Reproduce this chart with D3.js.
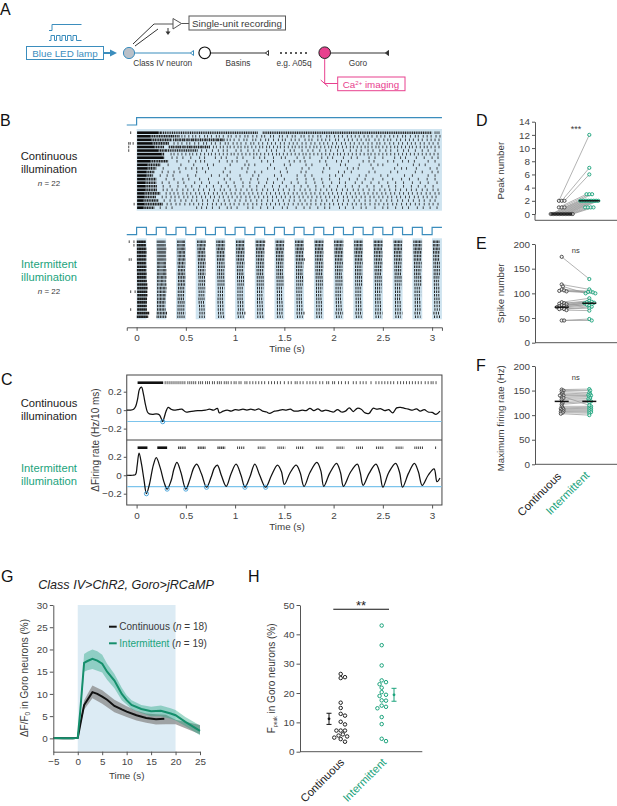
<!DOCTYPE html>
<html lang="en">
<head>
<meta charset="utf-8">
<title>Continuous vs intermittent illumination</title>
<script src="https://d3js.org/d3.v7.min.js"></script>
<style>
  body { margin: 0; background: #fff; }
  svg { display: block; }
  text { font-family: "Liberation Sans", Arial, sans-serif; fill: #3a3a3a; }
  .domain, .tick line { stroke: #555; stroke-width: 1; }
  .tick text { font-size: 9.9px; fill: #444; }
</style>
</head>
<body>
<svg id="fig" width="617" height="806"></svg>
<script>
const BLUE = '#3b8dbd', GREEN = '#1ba37c', PINK = '#e8408e', SHADE = '#cfe4f0', THRESH = '#7cc4ec';

// light pulses (s)
const pulseOn = [0, .2, .4, .6, .8, 1, 1.2, 1.4, 1.6, 1.8, 2, 2.2, 2.4, 2.6, 2.8, 3];
const pulseOff = [.1, .3, .5, .7, .9, 1.1, 1.3, 1.5, 1.7, 1.9, 2.1, 2.3, 2.5, 2.7, 2.9, 3.1];
const timeTicks = [0, .5, 1, 1.5, 2, 2.5, 3];

// B raster, continuous: times in 1/100 s
const contSolid = [22, 14, 15, 16, 18, 22, 25, 27, 14, 11, 11, 10, 10, 9, 9, 9, 9, 8, 8, 7, 8, 7];
const contDense = [25, 37, 36, 33, 28, 30, 28, 28, 32, 24, 20, 18, 17, 20, 20, 21, 21, 24, 20, 22, 27, 18];
const contBlocks = [[0, 25, 123], [0, 128, 300], [2, 37, 90], [4, 33, 75], [5, 30, 62], [1, 37, 44]];
const contPre = [[0, -6], [3, -8], [3, -6.5], [3, -3.5], [4, -8], [5, -8], [20, -2.5]];
const contSpikes = [
  [303, 305, 307],
  [46, 49, 53, 57, 60, 64, 69, 72, 76, 81, 84, 88, 93, 96, 101, 105, 110, 113, 118, 122, 127, 130, 136, 139, 145, 148, 153, 158, 161, 167, 170, 175, 179, 184, 187, 193, 196, 201, 205, 209, 214, 218, 222, 226, 231, 235, 239, 244, 248, 252, 257, 261, 265, 270, 273, 278, 283, 286, 291, 295, 299, 304, 308],
  [40, 44, 48, 52, 57, 60, 65, 70, 74, 78, 82, 86, 92, 95, 99, 104, 109, 112, 118, 121, 126, 131, 134, 139, 144, 148, 151, 157, 161, 165, 171, 175, 178, 184, 188, 192, 196, 202, 205, 211, 215, 219, 224, 228, 233, 236, 242, 246, 251, 255, 258, 264, 268, 273, 277, 281, 286, 290, 295, 299, 303, 307],
  [38, 42, 46, 51, 54, 59, 63, 68, 71, 76, 80, 85, 90, 93, 98, 102, 106, 111, 116, 119, 124, 128, 133, 137, 141, 146, 150, 155, 159, 163, 168, 172, 177, 181, 186, 190, 194, 199, 203, 208, 212, 217, 221, 226, 230, 235, 239, 244, 247, 252, 257, 261, 266, 270, 275, 279, 283, 288, 292, 297, 301, 306],
  [33, 37, 41, 44, 48, 52, 55, 59, 63, 66, 70, 74, 78, 81, 85, 88, 92, 95, 99, 103, 106, 110, 113, 117, 121, 125, 128, 132, 135, 139, 143, 146, 150, 154, 158, 161, 165, 168, 172, 176, 180, 183, 187, 191, 195, 198, 202, 205, 209, 213, 217, 220, 224, 228, 232, 235, 239, 243, 246, 250, 254, 258, 262, 265, 269, 273, 277, 280, 284, 288, 292, 295, 299, 303, 307],
  [66, 71, 77, 83, 88, 92, 101, 106, 113, 119, 124, 132, 137, 142, 150, 156, 160, 168, 174, 179, 186, 192, 197, 204, 210, 217, 223, 228, 235, 240, 247, 253, 258, 265, 271, 276, 283, 290, 296, 303],
  [35, 38, 42, 46, 50, 54, 57, 61, 65, 69, 73, 76, 80, 84, 88, 92, 96, 99, 103, 107, 111, 115, 119, 122, 126, 130, 134, 138, 142, 145, 149, 153, 157, 161, 165, 169, 172, 176, 180, 184, 188, 192, 196, 200, 204, 207, 211, 215, 219, 223, 227, 231, 235, 238, 242, 246, 250, 254, 258, 262, 266, 270, 274, 278, 282, 286, 290, 294, 298, 302, 306],
  [36, 41, 47, 55, 64, 69, 80, 86, 91, 102, 108, 119, 125, 130, 139, 147, 151, 163, 170, 176, 188, 194, 199, 210, 218, 224, 236, 242, 250, 262, 268, 273, 284, 292, 300, 306],
  [41, 53, 60, 65, 69, 84, 92, 97, 102, 112, 127, 133, 139, 155, 160, 166, 171, 186, 192, 203, 208, 215, 230, 236, 241, 255, 261, 270, 276, 282, 296, 303],
  [32, 45, 58, 72, 78, 95, 110, 114, 120, 136, 150, 156, 172, 178, 193, 207, 212, 226, 238, 245, 250, 265, 281, 287, 293, 307],
  [27, 43, 50, 56, 61, 67, 73, 90, 107, 113, 133, 140, 152, 168, 175, 190, 196, 214, 220, 225, 240, 262, 269, 274, 284, 298, 305],
  [26, 32, 38, 44, 61, 70, 88, 95, 112, 120, 127, 146, 153, 167, 172, 189, 205, 211, 218, 236, 242, 258, 265, 283, 290, 300, 306],
  [24, 31, 37, 52, 60, 76, 84, 92, 105, 118, 124, 140, 147, 163, 171, 178, 196, 202, 209, 226, 233, 248, 255, 272, 280, 296, 303],
  [30, 38, 47, 53, 64, 73, 89, 95, 106, 116, 123, 133, 143, 150, 163, 172, 180, 188, 196, 206, 216, 224, 232, 240, 250, 260, 269, 277, 286, 295, 303],
  [26, 33, 42, 48, 59, 66, 74, 83, 91, 99, 108, 115, 124, 132, 139, 148, 157, 164, 172, 181, 189, 198, 206, 212, 222, 229, 238, 246, 255, 263, 271, 280, 288, 296, 305],
  [27, 34, 42, 50, 56, 64, 71, 78, 86, 93, 100, 108, 115, 122, 130, 138, 145, 152, 160, 167, 174, 182, 190, 196, 204, 212, 219, 226, 234, 241, 249, 256, 263, 271, 279, 286, 293, 301],
  [27, 31, 36, 41, 47, 52, 58, 63, 68, 74, 79, 85, 89, 95, 101, 106, 112, 117, 122, 128, 133, 139, 144, 149, 155, 160, 166, 171, 176, 182, 187, 193, 198, 203, 209, 214, 220, 225, 230, 236, 241, 247, 252, 257, 263, 268, 274, 279, 284, 290, 295, 301, 306],
  [30, 34, 38, 42, 47, 51, 55, 60, 64, 69, 73, 78, 82, 87, 91, 96, 100, 105, 109, 114, 118, 123, 127, 132, 136, 141, 145, 150, 154, 159, 163, 168, 172, 177, 181, 186, 190, 195, 199, 204, 208, 213, 217, 222, 226, 231, 235, 240, 244, 249, 253, 258, 262, 267, 271, 276, 280, 285, 289, 294, 298, 303, 307],
  [26, 30, 35, 39, 43, 48, 52, 57, 61, 66, 70, 75, 79, 84, 88, 93, 97, 102, 106, 111, 115, 120, 124, 129, 133, 138, 142, 147, 151, 156, 160, 165, 169, 174, 178, 183, 187, 192, 196, 201, 205, 210, 214, 219, 223, 228, 232, 237, 241, 246, 250, 255, 259, 264, 268, 273, 277, 282, 286, 291, 295, 300, 304],
  [28, 34, 39, 45, 50, 56, 61, 67, 72, 78, 83, 89, 94, 100, 105, 111, 116, 122, 127, 133, 138, 144, 149, 155, 160, 166, 171, 177, 182, 188, 193, 199, 204, 210, 215, 221, 226, 232, 237, 243, 248, 254, 259, 265, 270, 276, 281, 287, 292, 298, 303],
  [31, 35, 40, 44, 49, 54, 58, 63, 67, 72, 77, 81, 86, 90, 95, 99, 104, 109, 113, 118, 122, 127, 132, 136, 141, 145, 150, 154, 159, 164, 168, 173, 177, 182, 187, 191, 196, 200, 205, 209, 214, 219, 223, 228, 232, 237, 242, 246, 251, 255, 260, 264, 269, 274, 278, 283, 287, 292, 297, 301, 306],
  [24, 30, 36, 61, 66, 71, 77, 84, 92, 96, 102, 113, 118, 126, 133, 139, 148, 153, 162, 170, 176, 184, 191, 196, 206, 212, 220, 228, 233, 242, 250, 255, 263, 270, 276, 285, 291, 298, 305]
];

// B raster, intermittent: burst onset / length per pulse per row (ms after pulse onset)
const interOnset = [
  [2, 2, 3, 3, 3, 3, 4, 4, 3, 4, 4, 4, 5, 5, 5, 6, 6, 5, 6, 5, 4, 2],
  [5, 5, 6, 6, 6, 7, 7, 7, 8, 8, 8, 8, 9, 9, 9, 9, 9, 8, 8, 8, 5, 3],
  [12, 12, 14, 16, 16, 18, 16, 18, 20, 18, 20, 20, 18, 20, 18, 18, 16, 18, 16, 16, 14, 14],
  [14, 16, 18, 20, 20, 22, 24, 24, 26, 26, 28, 30, 28, 28, 30, 30, 28, 30, 34, 36, 38, 36],
  [10, 10, 12, 14, 14, 16, 18, 18, 20, 20, 20, 22, 22, 24, 24, 24, 22, 22, 24, 24, 26, 28],
  [10, 10, 12, 12, 14, 14, 16, 18, 18, 20, 20, 22, 24, 24, 24, 24, 24, 26, 26, 28, 24, 28],
  [10, 10, 12, 14, 14, 16, 16, 16, 18, 18, 20, 20, 20, 22, 22, 24, 22, 22, 24, 26, 24, 26],
  [12, 14, 12, 14, 16, 16, 18, 18, 20, 20, 20, 22, 22, 22, 24, 24, 24, 24, 26, 26, 24, 28],
  [10, 12, 14, 14, 16, 16, 18, 18, 20, 20, 20, 22, 22, 22, 22, 24, 24, 24, 26, 26, 24, 28],
  [8, 10, 12, 12, 14, 14, 16, 16, 16, 18, 18, 20, 20, 22, 22, 22, 24, 24, 24, 26, 24, 26],
  [6, 8, 10, 10, 12, 14, 14, 16, 16, 18, 18, 20, 20, 20, 20, 20, 22, 22, 24, 26, 20, 26],
  [10, 10, 12, 12, 14, 16, 16, 18, 18, 18, 20, 20, 20, 22, 22, 22, 24, 24, 24, 26, 22, 26],
  [8, 8, 10, 12, 12, 14, 14, 16, 16, 18, 18, 18, 20, 20, 20, 22, 22, 22, 24, 24, 22, 26],
  [10, 12, 12, 14, 14, 16, 16, 18, 18, 20, 20, 20, 22, 22, 24, 24, 22, 24, 24, 26, 24, 28],
  [10, 10, 12, 12, 14, 14, 16, 16, 18, 18, 20, 20, 20, 22, 22, 22, 24, 24, 24, 26, 22, 26],
  [8, 8, 10, 10, 12, 12, 14, 14, 16, 16, 16, 18, 18, 20, 20, 20, 22, 22, 22, 24, 14, 20]
];
const interLength = [
  [92, 94, 96, 98, 96, 96, 94, 96, 96, 98, 96, 100, 104, 108, 104, 104, 100, 100, 98, 100, 124, 116],
  [90, 92, 98, 96, 94, 96, 96, 94, 98, 98, 96, 94, 96, 94, 92, 90, 88, 84, 82, 86, 108, 104],
  [84, 84, 80, 78, 80, 76, 78, 76, 74, 76, 74, 72, 74, 72, 74, 70, 72, 70, 72, 68, 80, 74],
  [88, 86, 82, 78, 80, 78, 76, 74, 72, 72, 70, 68, 70, 68, 66, 64, 66, 66, 62, 60, 60, 56],
  [88, 88, 84, 82, 84, 80, 76, 78, 74, 74, 72, 70, 70, 68, 66, 66, 66, 68, 64, 62, 60, 60],
  [88, 86, 84, 84, 82, 80, 78, 74, 72, 70, 70, 68, 66, 64, 64, 64, 64, 62, 60, 58, 84, 58],
  [100, 92, 88, 84, 82, 80, 78, 78, 74, 74, 72, 70, 70, 68, 66, 64, 66, 66, 62, 60, 66, 62],
  [88, 86, 84, 80, 80, 78, 74, 74, 72, 70, 70, 68, 68, 66, 64, 64, 62, 62, 60, 58, 66, 56],
  [88, 86, 84, 82, 80, 96, 76, 74, 72, 70, 70, 68, 66, 66, 66, 64, 62, 62, 60, 58, 84, 58],
  [90, 88, 84, 84, 82, 80, 78, 78, 76, 74, 72, 70, 70, 68, 66, 66, 62, 62, 60, 58, 66, 56],
  [92, 90, 86, 86, 84, 80, 80, 76, 76, 72, 72, 70, 68, 68, 68, 66, 66, 64, 60, 58, 76, 56],
  [88, 88, 84, 84, 82, 78, 78, 74, 74, 74, 70, 70, 70, 66, 66, 66, 62, 62, 60, 58, 72, 58],
  [90, 90, 86, 84, 84, 80, 80, 76, 76, 72, 72, 72, 68, 68, 68, 64, 64, 64, 60, 60, 74, 56],
  [88, 84, 84, 80, 80, 78, 76, 74, 74, 70, 70, 70, 66, 66, 62, 62, 64, 62, 60, 58, 74, 56],
  [88, 88, 86, 84, 82, 80, 78, 76, 74, 72, 70, 70, 70, 66, 66, 66, 62, 62, 60, 58, 70, 56],
  [72, 70, 68, 68, 66, 66, 64, 64, 62, 62, 62, 60, 60, 58, 58, 58, 56, 56, 56, 54, 62, 60]
];
// spike spacing in a burst (ms): per pulse, then scaled per row
const pulseIsi = [9, 12, 15, 17, 18, 18, 18, 18, 18, 18, 18, 18, 18, 18, 18, 18];
const rowIsi = [.8, .8, .8, .9, .9, .9, 1, 1, 1, 1, 1.1, 1.1, 1.1, 1.2, 1.2, 1.2, 1.2, 1.3, 1.3, 1.3, 1.3, 1.4];
const interPre = [[0, -7.5], [0, -2.7], [1, -2.7], [5, -7.5], [5, -5.5], [14, -6], [14, -1.5], [19, -6]];

// C: population firing rate
const rateUpT = [-10, -6, -3, -1, 1, 3, 5, 7, 9, 11, 13, 16, 20, 23, 25, 26.5, 28, 30, 32, 35, 38, 42, 46, 50, 54, 58, 62, 66, 70, 74, 78, 82, 84, 88, 92, 96, 100, 104, 108, 112, 116, 120, 124, 128, 132, 135, 140, 144, 148, 152, 156, 160, 164, 168, 172, 176, 180, 184, 188, 192, 196, 200, 204, 208, 212, 216, 220, 224, 228, 232, 236, 240, 244, 248, 252, 256, 260, 264, 268, 272, 276, 280, 284, 288, 292, 296, 300, 304, 308];
const rateUpV = [0, 0, .01, .04, .12, .23, .25, .17, .06, -.02, -.04, -.045, -.04, -.05, -.09, -.125, -.08, -.01, .03, .01, 0, .005, .01, -.02, -.015, -.01, -.005, -.005, 0, .01, 0, .02, -.03, -.01, .0, -.01, .005, 0, .01, 0, .01, 0, .015, -.01, -.02, -.035, -.01, -.005, .005, 0, .01, -.01, -.01, 0, -.005, .02, -.005, .015, -.01, 0, -.01, -.02, .005, -.02, -.01, .025, -.015, .02, .01, -.03, -.035, .02, .01, .015, -.005, .005, -.03, .025, .03, .02, .01, 0, .015, -.01, .005, -.02, -.025, -.045, -.01];
const rateLoT = [-10, -4, -1, 0.5, 2.5, 5, 7.5, 10, 13, 17, 20, 24, 28, 31, 35, 38, 41, 45, 50, 54, 58, 61, 66, 71, 76, 79, 82, 86, 91, 96, 101, 106, 110, 115, 120, 125, 131, 137, 143, 147, 150, 156, 162, 166, 170, 176, 183, 187, 190, 196, 203, 207, 210, 217, 224, 227, 230, 236, 243, 247, 250, 256, 263, 267, 270, 276, 282, 286, 290, 296, 302, 305, 308];
const rateLoV = [0, 0, .01, .1, .24, .12, -.05, -.2, -.1, .11, .19, .08, -.08, -.15, -.06, .07, .14, .03, -.15, -.05, .08, .12, .01, -.13, -.01, .08, .11, .0, -.12, .02, .12, 0, -.13, -.02, .12, 0, -.13, .0, .11, .04, -.1, .03, .11, .03, -.12, .03, .14, .05, -.12, .02, .13, .03, -.12, .03, .12, .03, -.11, .02, .12, .02, -.13, .03, .13, .03, -.13, .02, .13, .04, -.11, .0, .07, -.07, -.03];
const troughsUp = [26.5];
const troughsLo = [10, 31, 50, 71, 110, 131];
const stripUp = [29, 31, 33, 35, 37, 39, 41, 43, 45, 47, 49, 52, 54, 56, 58, 60, 63, 65, 67, 70, 72, 74, 77, 79, 82, 84, 86, 89, 91, 93, 96, 99, 101, 104, 106, 110, 112, 115, 118, 121, 124, 127, 130, 134, 137, 140, 143, 146, 150, 154, 157, 161, 163, 166, 169, 173, 176, 179, 182, 186, 189, 193, 195, 199, 201, 205, 208, 212, 215, 220, 223, 227, 230, 233, 238, 243, 246, 249, 252, 255, 258, 261, 265, 268, 271, 274, 277, 280, 283, 286, 289, 293, 296, 299, 301, 304];
const stripLoOn = [1, 21, 42, 62, 82, 102, 123, 143, 162, 182, 203, 223, 243, 263, 282, 303];
const stripLoOff = [11, 31, 50, 70, 90, 110, 131, 151, 170, 190, 211, 230, 251, 271, 291, 305];

// D, E, F: paired values
const peakCont = [2, 2, 2, 1, 1, 1, 0, 0, 0, 0, 0, 0, 0, 0, 0, 0, 0, 0, 0, 0, 0, 0];
const peakInter = [12, 7, 6, 3, 3, 3, 2, 2, 2, 2, 2, 2, 2, 2, 2, 2, 2, 2, 1, 1, 1, 1];
const spikeCont = [174, 118, 114, 108, 106, 105, 104, 82, 80, 79, 78, 76, 75, 74, 73, 72, 70, 68, 68, 66, 45, 45];
const spikeInter = [129, 108, 100, 104, 102, 103, 100, 90, 85, 83, 82, 81, 80, 80, 78, 77, 75, 73, 70, 65, 48, 45];
const maxCont = [152, 150, 148, 145, 142, 140, 137, 135, 132, 128, 125, 122, 118, 115, 113, 112, 110, 108, 107, 105, 103, 140];
const maxInter = [153, 150, 146, 143, 141, 140, 138, 135, 133, 130, 128, 126, 118, 116, 114, 112, 110, 108, 106, 104, 100, 120];
const peakMeans = [0, 2], spikeMeans = [72, 80], maxMeans = [128, 128];

// G: mean and band
const gBlackT = [-5, -3, -1, 0, .5, 1.3, 2, 3, 4, 5, 6, 7.5, 9, 10, 12, 14, 16, 17.7];
const gBlackV = [.1, 0, 0, .1, 3, 7.5, 8.7, 10.4, 10, 9.4, 8.7, 7.3, 6.5, 6, 5.2, 4.6, 4.3, 4.4];
const gGrayT = [-5, -1, 0, .5, 1.3, 2, 3, 5, 7.5, 10, 12, 14, 16, 18, 20, 25];
const gGrayLo = [-.2, -.1, 0, 2.5, 6.5, 7.5, 9, 7.8, 5.9, 4.8, 4, 3.5, 3.1, 3.2, 3.2, .9];
const gGrayHi = [.2, .1, .2, 3.5, 8.5, 10, 11.9, 10.8, 8.7, 7.2, 6.2, 5.6, 5.4, 5.3, 4.2, 3];
const gGreenT = [-5, -3, -1, 0, .5, 1.3, 2, 3, 4, 5, 6, 7.5, 9, 10, 11, 13, 15, 17, 19, 20, 22, 25];
const gGreenV = [.1, 0, 0, .1, 6, 17, 17.4, 17.9, 17.5, 16.8, 15, 13, 10, 8.6, 7.5, 6.6, 6.1, 6.2, 5.6, 5.2, 3.7, 1.7];
const gGreenLo = [-.2, -.1, -.1, 0, 5, 15, 15.3, 15.6, 15.2, 14.8, 13.2, 11.3, 8.6, 7.6, 6.6, 5.7, 5, 5, 4.4, 4, 2.8, .7];
const gGreenHi = [.2, .1, .1, .2, 7, 19, 19.5, 20, 19.6, 18.8, 16.8, 14.5, 11.4, 9.7, 8.6, 7.5, 7.1, 7.4, 6.8, 6.4, 4.8, 2.9];

// H: peak values and mean +- sem
const fpeakCont = [26.5, 25.4, 25.1, 16.7, 14.9, 12.9, 12.3, 10.2, 9.3, 7.2, 7.2, 7.2, 5.9, 5.5, 5.2, 4.8, 4.3, 3.4];
const fpeakInter = [43, 36.3, 29.4, 24.3, 23.7, 23, 21.8, 20.3, 19.4, 19, 17.5, 17.4, 15.7, 15.3, 14.8, 11.8, 9.4, 4.4, 3.6];
const fpeakCI = [[11.2, 9.3, 13.1], [19.4, 17.2, 21.6]];

const svg = d3.select('#fig');

function txt(x, y, s, o = {}) {
  const t = svg.append('text').attr('x', x).attr('y', y)
    .attr('font-size', o.size || 10).attr('text-anchor', o.anchor || 'start').text(s);
  if (o.fill) t.style('fill', o.fill);
  if (o.italic) t.attr('font-style', 'italic');
  if (o.rotate !== undefined) t.attr('transform', `rotate(${o.rotate},${x},${y})`);
  return t;
}
function path(d, stroke, w, fill) {
  return svg.append('path').attr('d', d).attr('stroke', stroke).attr('stroke-width', w).attr('fill', fill || 'none');
}

// panel letters
[['A', 0, 15], ['B', 0, 126], ['C', 1, 385], ['D', 476, 126], ['E', 476, 249], ['F', 476, 371], ['G', 1, 582], ['H', 248, 582]]
  .forEach(l => txt(l[1], l[2], l[0], { size: 16, fill: '#111' }));

// ---------- A: schematic
path('M49,30.5H52V24.5H81.5', BLUE, 1);
path('M49,40.5H51V35.5H54.5V40.5H56.5V35.5H60V40.5H62V35.5H65.5V40.5H67.5V35.5H71V40.5H73V35.5H76.5V40.5H81.5', BLUE, 1);
svg.append('rect').attr('x', 26.5).attr('y', 46.5).attr('width', 77).attr('height', 13).attr('fill', '#fff').attr('stroke', BLUE);
txt(65, 57, 'Blue LED lamp', { size: 9.8, anchor: 'middle', fill: BLUE });
path('M104,53H112', BLUE, 2);
path('M110,49.5L117,53L110,56.5Z', BLUE, 0, BLUE);
path('M133,44L154,24', '#333', 1);
path('M135,46L158,29', '#333', 1);
path('M154,24H173', '#555', 1);
path('M168,28V33', '#333', 1);
path('M165.5,31.5L168,35L170.5,31.5Z', '#333', 0, '#333');
path('M173,18.5L181.5,23.5L173,29Z', '#555', 1, '#fff');
path('M181.5,23.5H189', '#555', 1);
svg.append('rect').attr('x', 189).attr('y', 16).attr('width', 96.5).attr('height', 14).attr('fill', '#fff').attr('stroke', '#555');
txt(237, 27, 'Single-unit recording', { size: 9.8, anchor: 'middle' });
path('M135,53H191', BLUE, 1.2);
path('M193.5,50.5L190.5,53L193.5,55.5Z', BLUE, 1, '#fff');
svg.append('circle').attr('cx', 129).attr('cy', 53).attr('r', 5.6).attr('fill', '#b9c0c8').attr('stroke', BLUE).attr('stroke-width', 1);
path('M210,53H266', '#333', 1.2);
path('M268.5,50.5L265.5,53L268.5,55.5Z', '#333', 1, '#fff');
svg.append('circle').attr('cx', 204.7).attr('cy', 52.8).attr('r', 5.8).attr('fill', '#fff').attr('stroke', '#111').attr('stroke-width', 1.2);
svg.selectAll('circle.dot').data([281, 286, 291, 296, 301, 306]).enter().append('circle')
  .attr('class', 'dot').attr('cx', d => d).attr('cy', 53).attr('r', 1).attr('fill', '#222');
path('M330,53H386', '#333', 1.2);
path('M388.5,50.5L385.5,53L388.5,55.5Z', '#333', 1, '#333');
path('M324.7,59V83.5H338', PINK, 1);
path('M320.7,80L328,86.5', PINK, 1);
svg.append('circle').attr('cx', 324.7).attr('cy', 52.7).attr('r', 5.8).attr('fill', PINK).attr('stroke', '#222').attr('stroke-width', 1);
svg.append('rect').attr('x', 337.7).attr('y', 77).attr('width', 67.3).attr('height', 13.7).attr('fill', '#fff').attr('stroke', PINK);
const ca = txt(371, 88, 'Ca', { size: 9.8, anchor: 'middle', fill: PINK });
ca.append('tspan').attr('dy', -3).attr('font-size', 6).style('fill', PINK).text('2+');
ca.append('tspan').attr('dy', 3).style('fill', PINK).text(' imaging');
txt(162.7, 66, 'Class IV neuron', { size: 8.3, anchor: 'middle' });
txt(238, 66, 'Basins', { size: 8.3, anchor: 'middle' });
txt(294, 66, 'e.g. A05q', { size: 8.3, anchor: 'middle' });
txt(358, 66, 'Goro', { size: 8.3, anchor: 'middle' });

// ---------- B: rasters
const x = d3.scaleLinear().domain([-.1, 3.1]).range([126.75, 441.95]);
const cs = d => x(d / 100);
const rowC = d3.scaleLinear().domain([0, 21]).range([132.7, 207.7]);
const rowI = d3.scaleLinear().domain([0, 21]).range([241.7, 316.7]);
const TICK = 1.3;

txt(49, 160, 'Continuous', { size: 11.2, anchor: 'middle', fill: '#222' });
txt(49, 172.7, 'illumination', { size: 11.2, anchor: 'middle', fill: '#222' });
const nc = txt(49, 186, 'n', { size: 8, anchor: 'middle', italic: true });
nc.append('tspan').attr('font-style', 'normal').text(' = 22');
txt(49, 268, 'Intermittent', { size: 11.2, anchor: 'middle', fill: GREEN });
txt(49, 280.5, 'illumination', { size: 11.2, anchor: 'middle', fill: GREEN });
const ni = txt(49, 294, 'n', { size: 8, anchor: 'middle', italic: true });
ni.append('tspan').attr('font-style', 'normal').text(' = 22');

const stepUp = d3.line().x(d => x(d[0])).y(d => d[1]);
svg.append('path').attr('fill', 'none').attr('stroke', BLUE).attr('stroke-width', 1.2)
  .attr('d', stepUp([[-.1, 125], [0, 125], [0, 117.7], [3.1, 117.7]]));
const pulseTrace = [[-.1, 234.7]];
pulseOn.forEach((on, i) => {
  pulseTrace.push([on, 234.7], [on, 227.3], [pulseOff[i], 227.3]);
  if (i < pulseOn.length - 1) pulseTrace.push([pulseOff[i], 234.7]);
});
svg.append('path').attr('fill', 'none').attr('stroke', BLUE).attr('stroke-width', 1.2).attr('d', stepUp(pulseTrace));

// shading
svg.append('rect').attr('x', x(0)).attr('y', 129).attr('width', x(3.1) - x(0)).attr('height', 81.7).attr('fill', SHADE);
svg.selectAll('rect.pshade').data(pulseOn).enter().append('rect').attr('class', 'pshade')
  .attr('x', d => x(d)).attr('y', 238.3).attr('height', 81)
  .attr('width', (d, i) => x(pulseOff[i]) - x(d)).attr('fill', SHADE);

function spikeTicks(list, row) {
  svg.append('g').selectAll('line').data(list).enter().append('line')
    .attr('x1', d => cs(d[1])).attr('x2', d => cs(d[1]))
    .attr('y1', d => row(d[0]) - TICK).attr('y2', d => row(d[0]) + TICK)
    .attr('stroke', '#1c1c1c').attr('stroke-width', .8);
}
function dashed(x1, x2, y, dash, color) {
  svg.append('line').attr('x1', x1).attr('x2', x2).attr('y1', y).attr('y2', y)
    .attr('stroke', color || '#111').attr('stroke-width', 2.6).attr('stroke-dasharray', dash);
}
contSolid.forEach((end, r) => {
  dashed(cs(0.5), cs(end), rowC(r), null, '#0c0c0c');
  dashed(cs(end), cs(contDense[r]), rowC(r), '1.2 .5', '#1a1a1a');
});
contBlocks.forEach(b => dashed(cs(b[1]), cs(b[2]), rowC(b[0]), '1.1 .7', '#222'));
contSpikes.forEach((list, r) => spikeTicks(list.map(t => [r, t]), rowC));
spikeTicks(contPre, rowC);
spikeTicks(interPre, rowI);

interOnset.forEach((onsets, p) => {
  onsets.forEach((on, r) => {
    const start = pulseOn[p] * 1000 + on;
    const x1 = x(start / 1000), x2 = Math.min(x((start + interLength[p][r]) / 1000), x(3.1));
    const period = x(pulseIsi[p] * rowIsi[r] / 1000) - x(0);
    const w = Math.min(.95, period * .62);
    dashed(x1, x2, rowI(r), p < 1 ? '2 .12' : `${w} ${period - w}`, '#1c1c1c');
  });
});

svg.append('g').attr('transform', 'translate(0,327.3)')
  .call(d3.axisBottom(x).tickValues(timeTicks).tickSizeOuter(0).tickSize(3.5).tickPadding(3).tickFormat(d3.format('')));
txt(287, 352, 'Time (s)', { size: 9.8, anchor: 'middle' });

// ---------- C: firing rate
const yCu = d3.scaleLinear().domain([-.2, .2]).range([428.6, 391.7]);
const yCl = d3.scaleLinear().domain([-.2, .2]).range([493.7, 456.8]);
svg.append('rect').attr('x', 126.75).attr('y', 375).attr('width', 315.2).attr('height', 130)
  .attr('fill', 'none').attr('stroke', '#444').attr('stroke-width', 1);
svg.append('line').attr('x1', 126.75).attr('x2', 441.95).attr('y1', 440).attr('y2', 440).attr('stroke', '#444');
[yCu, yCl].forEach(s => {
  svg.append('line').attr('x1', 127.2).attr('x2', 441.5).attr('y1', s(-.123)).attr('y2', s(-.123))
    .attr('stroke', THRESH).attr('stroke-width', 1.2);
  const g = svg.append('g').attr('transform', 'translate(126.75,0)')
    .call(d3.axisLeft(s).tickValues([-.2, 0, .2]).tickSize(3).tickPadding(2)
      .tickFormat(d => d === 0 ? '0' : d3.format('.1f')(d).replace('-', '\u2212')));
  g.select('.domain').remove();
});
const gx = svg.append('g').attr('transform', 'translate(0,505)')
  .call(d3.axisBottom(x).tickValues(timeTicks).tickSizeOuter(0).tickSize(3.5).tickPadding(3).tickFormat(d3.format('')));
gx.select('.domain').remove();
txt(287, 530, 'Time (s)', { size: 9.8, anchor: 'middle' });
txt(99, 440, '\u0394Firing rate (Hz/10 ms)', { size: 10, anchor: 'middle', rotate: -90 });
txt(49, 407, 'Continuous', { size: 11.2, anchor: 'middle', fill: '#222' });
txt(49, 419.7, 'illumination', { size: 11.2, anchor: 'middle', fill: '#222' });
txt(49, 472, 'Intermittent', { size: 11.2, anchor: 'middle', fill: GREEN });
txt(49, 484.7, 'illumination', { size: 11.2, anchor: 'middle', fill: GREEN });

const lineUp = d3.line().x((d, i) => cs(rateUpT[i])).y(d => yCu(d)).curve(d3.curveCatmullRom);
const lineLo = d3.line().x((d, i) => cs(rateLoT[i])).y(d => yCl(d)).curve(d3.curveCatmullRom);
svg.append('path').attr('d', lineUp(rateUpV)).attr('fill', 'none').attr('stroke', '#111').attr('stroke-width', 1.25);
svg.append('path').attr('d', lineLo(rateLoV)).attr('fill', 'none').attr('stroke', '#111').attr('stroke-width', 1.25);
function troughMarks(list, T, V, s) {
  list.forEach(t => {
    const v = V[T.indexOf(t)];
    svg.append('circle').attr('cx', cs(t)).attr('cy', s(v)).attr('r', 2.1)
      .attr('fill', 'none').attr('stroke', '#3f9fd8').attr('stroke-width', .9);
  });
}
troughMarks(troughsUp, rateUpT, rateUpV, yCu);
troughMarks(troughsLo, rateLoT, rateLoV, yCl);
dashed(cs(1), cs(27), 382.7, null, '#111');
svg.append('g').selectAll('line').data(stripUp).enter().append('line')
  .attr('x1', d => cs(d)).attr('x2', d => cs(d)).attr('y1', 381.2).attr('y2', 384.2)
  .attr('stroke', '#333').attr('stroke-width', .85);
stripLoOn.forEach((on, i) => {
  const dash = i < 2 ? null : (i < 5 ? '1.3 .5' : '1 .9');
  dashed(cs(on), cs(stripLoOff[i]), 447.7, dash, i < 2 ? '#111' : '#444');
});

// ---------- D, E, F: paired plots
const colX = [561.7, 589.3];

// spread tied or nearby values sideways so points do not sit on each other
function dodge(vals, s, spacing) {
  const placed = [], out = new Array(vals.length);
  d3.range(vals.length).sort((a, b) => d3.descending(vals[a], vals[b])).forEach(i => {
    const y = s(vals[i]);
    for (let k = 0; ; k++) {
      const dx = (k % 2 ? 1 : -1) * Math.ceil(k / 2) * spacing * .55;
      if (placed.every(p => Math.hypot(p[0] - dx, p[1] - y) >= spacing)) {
        placed.push([dx, y]); out[i] = dx; break;
      }
    }
  });
  return out;
}
function spreadTies(vals, spacing, maxW) {
  const out = new Array(vals.length);
  d3.group(d3.range(vals.length), i => vals[i]).forEach(ids => {
    const step = ids.length > 1 ? Math.min(spacing, maxW / (ids.length - 1)) : 0;
    ids.forEach((id, k) => { out[id] = (k - (ids.length - 1) / 2) * step; });
  });
  return out;
}
function pairedPanel(o) {
  const y = o.y;
  svg.append('g').attr('transform', 'translate(535,0)')
    .call(d3.axisLeft(y).tickValues(o.ticks).tickSize(3).tickPadding(2).tickSizeOuter(0));
  svg.append('line').attr('x1', 535).attr('x2', 617).attr('y1', o.base).attr('y2', o.base).attr('stroke', '#555');
  if (o.stem) svg.append('line').attr('x1', 535).attr('x2', 535).attr('y1', y(0)).attr('y2', o.base).attr('stroke', '#555');
  txt(504, o.labelY, o.label, { size: 9.7, anchor: 'middle', rotate: -90 });
  txt(o.sigX, o.sigY, o.sig, { size: o.sigSize, anchor: 'middle' });
  const dxA = o.dxA, dxB = o.dxB;
  svg.append('g').selectAll('line').data(o.a).enter().append('line')
    .attr('x1', (d, i) => colX[0] + dxA[i]).attr('y1', d => y(d))
    .attr('x2', (d, i) => colX[1] + dxB[i]).attr('y2', (d, i) => y(o.b[i]))
    .attr('stroke', '#9a9a9a').attr('stroke-width', .75);
  [[o.a, dxA, '#444', 0], [o.b, dxB, GREEN, 1]].forEach(c => {
    svg.append('g').selectAll('circle').data(c[0]).enter().append('circle')
      .attr('cx', (d, i) => colX[c[3]] + c[1][i]).attr('cy', d => y(d)).attr('r', 1.6)
      .attr('fill', '#fff').attr('fill-opacity', .6).attr('stroke', c[2]).attr('stroke-width', .95);
  });
  o.means.forEach((m, i) => {
    svg.append('line').attr('x1', colX[i] - o.meanW).attr('x2', colX[i] + o.meanW)
      .attr('y1', y(m)).attr('y2', y(m)).attr('stroke', '#111').attr('stroke-width', 1.5);
  });
}
const yD = d3.scaleLinear().domain([0, 14]).range([214, 121.7]);
pairedPanel({ y: yD, ticks: d3.range(0, 15, 2), base: 220.3, stem: true, label: 'Peak number', labelY: 170.7,
  sig: '***', sigX: 576, sigY: 132, sigSize: 9, a: peakCont, b: peakInter, means: peakMeans, meanW: 10.5,
  dxA: spreadTies(peakCont, 2.8, 22), dxB: spreadTies(peakInter, 2.8, 18) });
const yE = d3.scaleLinear().domain([0, 200]).range([342.7, 244]);
pairedPanel({ y: yE, ticks: d3.range(0, 201, 50), base: 342.7, label: 'Spike number', labelY: 293.3,
  sig: 'ns', sigX: 575.7, sigY: 253, sigSize: 7.5, a: spikeCont, b: spikeInter, means: spikeMeans, meanW: 7,
  dxA: dodge(spikeCont, yE, 2.2), dxB: dodge(spikeInter, yE, 2.2) });
const yF = d3.scaleLinear().domain([0, 200]).range([464.3, 366]);
pairedPanel({ y: yF, ticks: d3.range(0, 201, 50), base: 464.3, label: 'Maximum firing rate (Hz)', labelY: 418.3,
  sig: 'ns', sigX: 575.7, sigY: 379.5, sigSize: 7.5, a: maxCont, b: maxInter, means: maxMeans, meanW: 7,
  dxA: dodge(maxCont, yF, 1.6), dxB: dodge(maxInter, yF, 1.6) });
txt(562, 477, 'Continuous', { size: 11.2, anchor: 'end', rotate: -45, fill: '#222' });
txt(590, 476, 'Intermittent', { size: 11.2, anchor: 'end', rotate: -45, fill: GREEN });

// ---------- G: calcium traces
const xG = d3.scaleLinear().domain([-5, 25]).range([53.3, 200]);
const yG = d3.scaleLinear().domain([-3, 30]).range([751.7, 605]);
txt(126, 588.5, 'Class IV>ChR2, Goro>jRCaMP', { size: 12.6, anchor: 'middle', italic: true, fill: '#222' });
svg.append('rect').attr('x', xG(0)).attr('y', yG(30)).attr('width', xG(20) - xG(0)).attr('height', yG(-3) - yG(30)).attr('fill', '#dcebf4');
const areaG = T => d3.area().x((d, i) => xG(T[i])).y0(d => yG(d[0])).y1(d => yG(d[1]));
svg.append('path').attr('d', areaG(gGrayT)(d3.zip(gGrayLo, gGrayHi))).attr('fill', '#8a8a8a').attr('fill-opacity', .75);
svg.append('path').attr('d', areaG(gGreenT)(d3.zip(gGreenLo, gGreenHi))).attr('fill', GREEN).attr('fill-opacity', .4);
const lineG = T => d3.line().x((d, i) => xG(T[i])).y(d => yG(d));
svg.append('path').attr('d', lineG(gBlackT)(gBlackV)).attr('fill', 'none').attr('stroke', '#111').attr('stroke-width', 2);
svg.append('path').attr('d', lineG(gGreenT)(gGreenV)).attr('fill', 'none').attr('stroke', '#158f6c').attr('stroke-width', 2);
svg.append('g').attr('transform', 'translate(53.3,0)')
  .call(d3.axisLeft(yG).tickValues(d3.range(0, 31, 5)).tickSize(3.5).tickPadding(2).tickSizeOuter(0));
svg.append('g').attr('transform', 'translate(0,751.7)')
  .call(d3.axisBottom(xG).tickValues(d3.range(-5, 26, 5)).tickSize(3.5).tickPadding(3).tickSizeOuter(0)
    .tickFormat(d => String(d).replace('-', '\u2212')));
txt(126.7, 779, 'Time (s)', { size: 9.8, anchor: 'middle' });
const gl = txt(28, 678, '\u0394F/F', { size: 10, anchor: 'middle', rotate: -90 });
gl.append('tspan').attr('dy', 2).attr('font-size', 6.5).text('0');
gl.append('tspan').attr('dy', -2).text(' in Goro neurons (%)');
svg.append('line').attr('x1', 109).attr('x2', 116.7).attr('y1', 626.7).attr('y2', 626.7).attr('stroke', '#111').attr('stroke-width', 2);
svg.append('line').attr('x1', 109).attr('x2', 116.7).attr('y1', 643.3).attr('y2', 643.3).attr('stroke', '#158f6c').attr('stroke-width', 2);
const l1 = txt(119.3, 630, 'Continuous (', { size: 10 });
l1.append('tspan').attr('font-style', 'italic').text('n');
l1.append('tspan').text(' = 18)');
const l2 = txt(119.3, 646.7, 'Intermittent', { size: 10, fill: GREEN });
l2.append('tspan').style('fill', '#3a3a3a').text(' (');
l2.append('tspan').style('fill', '#3a3a3a').attr('font-style', 'italic').text('n');
l2.append('tspan').style('fill', '#3a3a3a').text(' = 19)');

// ---------- H: peak response
const yH = d3.scaleLinear().domain([0, 50]).range([751.7, 605]);
const hX = [340.7, 381.7], hMean = [329, 394];
svg.append('g').attr('transform', 'translate(300,0)')
  .call(d3.axisLeft(yH).tickValues(d3.range(0, 51, 10)).tickSize(3.5).tickPadding(2).tickSizeOuter(0));
svg.append('line').attr('x1', 300).attr('x2', 422.3).attr('y1', yH(0)).attr('y2', yH(0)).attr('stroke', '#555');
const hl = txt(275, 678.3, 'F', { size: 10, anchor: 'middle', rotate: -90 });
hl.append('tspan').attr('dy', 2).attr('font-size', 5).text('peak');
hl.append('tspan').attr('dy', -2).text(' in Goro neurons (%)');
svg.append('line').attr('x1', 333.3).attr('x2', 389).attr('y1', 609.3).attr('y2', 609.3).attr('stroke', '#111').attr('stroke-width', 1.1);
txt(361, 610, '**', { size: 13, anchor: 'middle', fill: '#222' });
[[fpeakCont, '#222'], [fpeakInter, GREEN]].forEach((c, k) => {
  const dx = dodge(c[0], yH, 3.9);
  svg.append('g').selectAll('circle').data(c[0]).enter().append('circle')
    .attr('cx', (d, i) => hX[k] + dx[i]).attr('cy', d => yH(d)).attr('r', 1.75)
    .attr('fill', '#fff').attr('stroke', c[1]).attr('stroke-width', 1);
  const m = fpeakCI[k], col = k ? GREEN : '#111';
  path(`M${hMean[k]},${yH(m[1])}V${yH(m[2])}M${hMean[k] - 2.5},${yH(m[1])}h5M${hMean[k] - 2.5},${yH(m[2])}h5`, col, 1);
  svg.append('circle').attr('cx', hMean[k]).attr('cy', yH(m[0])).attr('r', 1.4).attr('fill', col);
});
txt(345, 763, 'Continuous', { size: 11.2, anchor: 'end', rotate: -45, fill: '#222' });
txt(387, 763, 'Intermittent', { size: 11.2, anchor: 'end', rotate: -45, fill: GREEN });
</script>
</body>
</html>
